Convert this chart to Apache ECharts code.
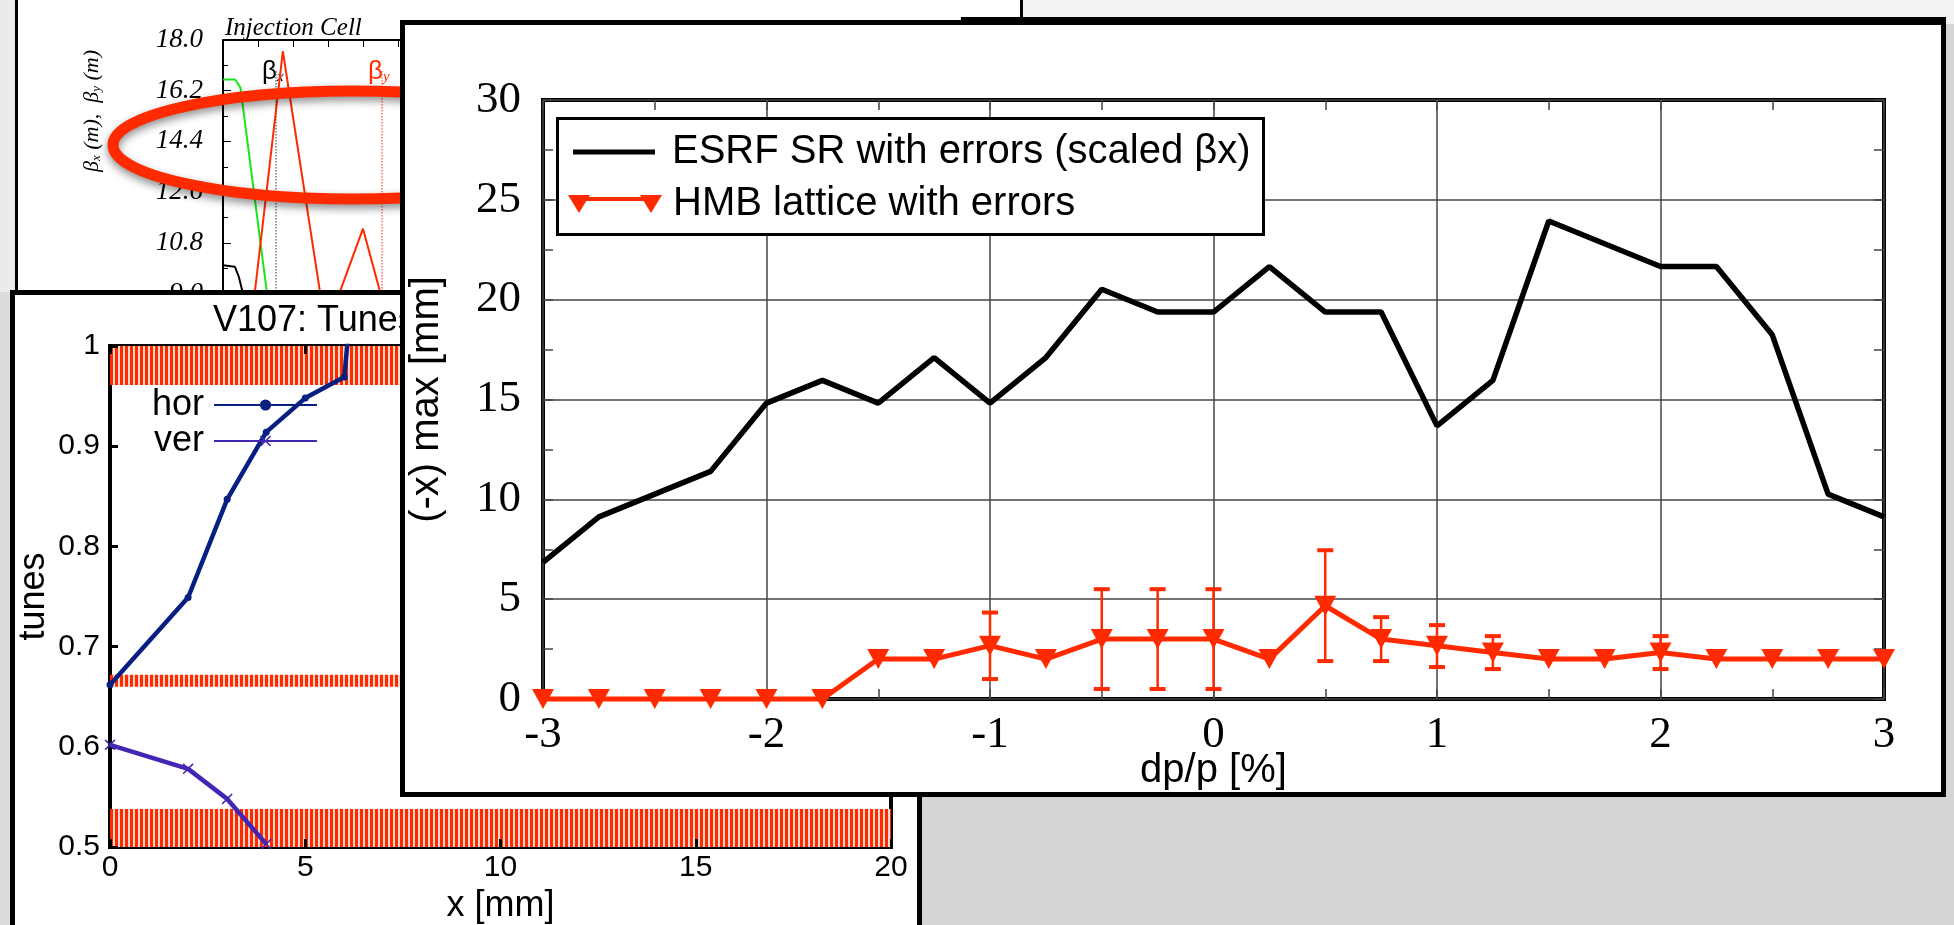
<!DOCTYPE html>
<html><head><meta charset="utf-8">
<script src="https://cdn.jsdelivr.net/npm/echarts@6/dist/echarts.min.js"></script>
<style>html,body{margin:0;padding:0;background:#d5d5d5}#c{width:1954px;height:925px}</style>
</head><body><div id="c"></div><script>
// ---------- main chart data ----------
const dpp = [-3,-2.75,-2.5,-2.25,-2,-1.75,-1.5,-1.25,-1,-0.75,-0.5,-0.25,0,0.25,0.5,0.75,1,1.25,1.5,1.75,2,2.25,2.5,2.75,3];
const esrf = [6.84,9.12,10.26,11.4,14.82,15.96,14.82,17.1,14.82,17.1,20.52,19.38,19.38,21.66,19.38,19.38,13.68,15.96,23.94,22.8,21.66,21.66,18.24,10.26,9.12];
const hmb = [0,0,0,0,0,0,2,2,2.67,2,3,3,3,2,4.67,3,2.67,2.33,2,2,2.33,2,2,2,2];
const errX = [-1,-0.5,-0.25,0,0.5,0.75,1,1.25,2];
const errLow = [1.0,0.5,0.5,0.5,1.9,1.9,1.6,1.5,1.5];
const errHigh = [4.33,5.5,5.5,5.5,7.45,4.1,3.7,3.15,3.15];
const mainNames = ['ESRF SR with errors (scaled βx)','HMB lattice with errors'];

// ---------- tunes panel data ----------
const horX = [0,2,3,4,5,6,6.12];
const horTune = [0.662,0.749,0.847,0.914,0.948,0.969,1.02];
const verX = [0,2,3,4];
const verTune = [0.602,0.578,0.548,0.503];
const bands = [[0.961,1.0],[0.660,0.672],[0.5,0.538]];

// ---------- beta panel data ----------
const greenS = [0,0.35,0.5,1.3,1.7];
const greenV = [16.6,16.6,16.3,8.6,4.9];
const redS = [0.4,1.71,2.94,4.0,5.5];
const redV = [3.6,17.6,7.7,11.3,4.4];
const blackS = [0,0.34,0.45,0.55,0.8];
const blackV = [10.0,9.95,9.6,9.1,7.2];
const markS = [1.51,4.54];

const zip = (a,b) => a.map((v,i)=>[v,b[i]]);
const RED = '#ff2a00';

const pc = document.createElement('canvas'); pc.width = 5; pc.height = 10;
const g = pc.getContext('2d'); g.fillStyle = '#ffd8cc'; g.fillRect(0,0,5,10); g.fillStyle = RED; g.fillRect(0,0,3,10);

const chart = echarts.init(document.getElementById('c'), null, {renderer:'canvas'});
const serif = 'Liberation Serif', sans = 'Liberation Sans';
const noLine = {show:false, onZero:false};

const option = {
  backgroundColor: '#d5d5d5',
  animation: false,
  graphic: { elements: [
    {type:'rect', z:0, shape:{x:1022,y:0,width:932,height:24}, style:{fill:'#f2f2f2'}},
    {type:'rect', z:0, shape:{x:0,y:0,width:16,height:292}, style:{fill:'#ebebeb'}},
    {type:'rect', z:0, shape:{x:0,y:292,width:12,height:633}, style:{fill:'#dcdcdc'}},
    {type:'rect', z:1, shape:{x:16.5,y:-10,width:1005,height:302}, style:{fill:'#fff', stroke:'#000', lineWidth:3}},
    {type:'text', z:2, x:225, y:28, style:{text:'Injection Cell', font:'italic 25px "Liberation Serif"', fill:'#000', verticalAlign:'middle'}},
    {type:'text', z:2, x:262, y:72, style:{text:'{b|β}{s|x}', verticalAlign:'middle', rich:{b:{font:'26px "Liberation Sans"', fill:'#000'}, s:{font:'italic 15px "Liberation Serif"', fill:'#000', verticalAlign:'bottom'}}}},
    {type:'text', z:2, x:368, y:72, style:{text:'{b|β}{s|y}', verticalAlign:'middle', rich:{b:{font:'26px "Liberation Sans"', fill:RED}, s:{font:'italic 15px "Liberation Serif"', fill:RED, verticalAlign:'bottom'}}}},
    {type:'text', z:2, x:92, y:111, rotation:Math.PI/2, style:{text:'{a|β}{s|x}{a| (m),  β}{s|y}{a| (m)}', align:'center', verticalAlign:'middle', rich:{a:{font:'italic 22px "Liberation Serif"', fill:'#000'}, s:{font:'italic 13px "Liberation Serif"', fill:'#000', verticalAlign:'bottom'}}}},
    {type:'ellipse', z:3, shape:{cx:353, cy:145, rx:240, ry:54}, style:{fill:'none', stroke:RED, lineWidth:11, shadowBlur:8, shadowOffsetY:4, shadowColor:'rgba(0,0,0,0.45)'}},
    {type:'rect', z:4, shape:{x:12.5,y:292.5,width:907,height:700}, style:{fill:'#fff', stroke:'#000', lineWidth:5}},
    {type:'text', z:6, x:213, y:321, style:{text:'V107: Tunes vs. x', font:'36px "Liberation Sans"', fill:'#000', verticalAlign:'middle'}},
    {type:'rect', z:7, shape:{x:402.5,y:22.5,width:1541,height:772}, style:{fill:'#fff', stroke:'#000', lineWidth:5}},
    {type:'rect', z:7, shape:{x:961,y:17,width:985,height:6}, style:{fill:'#000'}},
    {type:'rect', z:10, shape:{x:557.5,y:118.5,width:706,height:116}, style:{fill:'#fff', stroke:'#000', lineWidth:3}}
  ]},
  grid: [
    {left:223, top:40, width:770, height:507, show:false, z:2, outerBoundsMode:'none'},
    {left:110, top:346, width:781, height:501, show:true, borderColor:'#000', borderWidth:4, z:5, outerBoundsMode:'none'},
    {left:543, top:100, width:1341, height:599, show:true, borderColor:'#000', borderWidth:4, z:8, outerBoundsMode:'none'}
  ],
  xAxis: [
    {gridIndex:0, type:'value', position:'top', min:0, max:22, interval:1, z:2,
     axisLine:{show:true, onZero:false, lineStyle:{color:'#000', width:2}}, axisTick:{show:true, inside:true, length:7, lineStyle:{color:'#000'}},
     axisLabel:{show:false}, splitLine:{show:false}},
    {gridIndex:1, type:'value', position:'bottom', min:0, max:20, interval:5, z:5,
     axisLine:noLine, axisTick:{show:true, inside:true, length:8, lineStyle:{color:'#000', width:3}},
     axisLabel:{fontFamily:sans, fontSize:30, color:'#000', margin:6}, splitLine:{show:false},
     name:'x [mm]', nameLocation:'middle', nameGap:32, nameTextStyle:{fontFamily:sans, fontSize:36, color:'#000'}},
    {gridIndex:1, type:'value', position:'top', min:0, max:20, interval:5, z:5,
     axisLine:noLine, axisTick:{show:true, inside:true, length:8, lineStyle:{color:'#000', width:3}},
     axisLabel:{show:false}, splitLine:{show:false}},
    {gridIndex:2, type:'value', position:'bottom', min:-3, max:3, interval:1, z:8,
     axisLine:noLine, axisTick:{show:true, inside:true, length:10, lineStyle:{color:'#444', width:1.5}},
     minorTick:{show:true, splitNumber:2, length:10, lineStyle:{color:'#444', width:1.5}},
     axisLabel:{fontFamily:serif, fontSize:45, color:'#000', margin:14}, splitLine:{show:true, lineStyle:{color:'#444', width:1.5}},
     name:'dp/p [%]', nameLocation:'middle', nameGap:52, nameMoveOverlap:false, nameTextStyle:{fontFamily:sans, fontSize:40, color:'#000'}},
    {gridIndex:2, type:'value', position:'top', min:-3, max:3, interval:1, z:8,
     axisLine:noLine, axisTick:{show:true, inside:true, length:10, lineStyle:{color:'#444', width:1.5}},
     minorTick:{show:true, splitNumber:2, length:10, lineStyle:{color:'#444', width:1.5}},
     axisLabel:{show:false}, splitLine:{show:false}}
  ],
  yAxis: [
    {gridIndex:0, type:'value', position:'left', min:0, max:18, interval:1.8, z:2,
     axisLine:{show:true, onZero:false, lineStyle:{color:'#000', width:2}}, axisTick:{show:true, inside:true, length:8, lineStyle:{color:'#000'}},
     minorTick:{show:true, splitNumber:2, length:5, lineStyle:{color:'#000'}},
     axisLabel:{fontFamily:serif, fontStyle:'italic', fontSize:27, color:'#000', margin:20, formatter:v=>v.toFixed(1)}, splitLine:{show:false}},
    {gridIndex:1, type:'value', position:'left', min:0.5, max:1, interval:0.1, z:5,
     axisLine:noLine, axisTick:{show:true, inside:true, length:8, lineStyle:{color:'#000', width:3}},
     axisLabel:{fontFamily:sans, fontSize:30, color:'#000', margin:10, formatter:v=>String(+v.toFixed(1))}, splitLine:{show:false},
     name:'tunes', nameLocation:'middle', nameGap:58, nameTextStyle:{fontFamily:sans, fontSize:36, color:'#000'}},
    {gridIndex:2, type:'value', position:'left', min:0, max:30, interval:5, z:8,
     axisLine:noLine, axisTick:{show:true, inside:true, length:10, lineStyle:{color:'#444', width:1.5}},
     minorTick:{show:true, splitNumber:2, length:10, lineStyle:{color:'#444', width:1.5}},
     axisLabel:{fontFamily:serif, fontSize:45, color:'#000', margin:22}, splitLine:{show:true, lineStyle:{color:'#444', width:1.5}},
     name:'(-x) max [mm]', nameLocation:'middle', nameGap:96, nameTextStyle:{fontFamily:sans, fontSize:40, color:'#000'}},
    {gridIndex:2, type:'value', position:'right', min:0, max:30, interval:5, z:8,
     axisLine:noLine, axisTick:{show:true, inside:true, length:10, lineStyle:{color:'#444', width:1.5}},
     minorTick:{show:true, splitNumber:2, length:10, lineStyle:{color:'#444', width:1.5}},
     axisLabel:{show:false}, splitLine:{show:false}}
  ],
  legend: [
    {data:[{name:mainNames[0], icon:'rect'}], left:573, top:129, padding:0, itemWidth:82, itemHeight:5, z:11, selectedMode:false,
     textStyle:{fontFamily:sans, fontSize:40, color:'#000', lineHeight:46, padding:[0,0,0,12]}},
    {data:[{name:mainNames[1], icon:'path://M0,0 L22,0 L11,18 Z M72,0 L94,0 L83,18 Z M11,2 L83,2 L83,6 L11,6 Z'}], left:568, top:181, padding:0, itemWidth:94, itemHeight:18, z:11, selectedMode:false,
     textStyle:{fontFamily:sans, fontSize:40, color:'#000', lineHeight:46, padding:[0,0,0,6]}},
    {data:['hor','ver'], orient:'vertical', align:'right', left:152, top:387, padding:0, itemGap:0, itemWidth:103, itemHeight:14, z:6, selectedMode:false,
     textStyle:{fontFamily:sans, fontSize:36, color:'#000', lineHeight:31, padding:[0,5,0,0]}}
  ],
  series: [
    {type:'line', xAxisIndex:0, yAxisIndex:0, data:zip(greenS,greenV), symbol:'none', silent:true, z:2, lineStyle:{color:'#19e619', width:2}},
    {type:'line', xAxisIndex:0, yAxisIndex:0, data:zip(redS,redV), symbol:'none', silent:true, z:2, lineStyle:{color:RED, width:2}},
    {type:'line', xAxisIndex:0, yAxisIndex:0, data:zip(blackS,blackV), symbol:'none', silent:true, z:2, lineStyle:{color:'#000', width:2},
     markLine:{silent:true, z:2, symbol:'none', label:{show:false}, data:[
       [{coord:[markS[0],16.9], lineStyle:{color:'#777', type:'dotted', width:1.5}},{coord:[markS[0],0]}],
       [{coord:[markS[1],16.9], lineStyle:{color:'#ff7070', type:'dotted', width:1.5}},{coord:[markS[1],0]}]]}},
    {type:'line', name:'hor', xAxisIndex:1, yAxisIndex:1, data:zip(horX,horTune), color:'#081f82', z:5, clip:true,
     symbol:'circle', symbolSize:7, lineStyle:{width:4.5}, silent:true,
     markArea:{silent:true, z:5, itemStyle:{color:{image:pc, repeat:'repeat'}}, data:bands.map(b=>[{yAxis:b[0]},{yAxis:b[1]}])}},
    {type:'line', name:'ver', xAxisIndex:1, yAxisIndex:1, data:zip(verX,verTune), color:'#4426b4', z:5, clip:true,
     symbol:'path://M0,1 L1,0 L5,4 L9,0 L10,1 L6,5 L10,9 L9,10 L5,6 L1,10 L0,9 L4,5 Z', symbolSize:11, lineStyle:{width:4.5}, silent:true},
    {type:'line', name:mainNames[0], xAxisIndex:3, yAxisIndex:2, data:zip(dpp,esrf), color:'#000', symbol:'none', z:9,
     lineStyle:{width:5.5}, silent:true},
    {type:'custom', xAxisIndex:3, yAxisIndex:2, z:9, silent:true, clip:false,
     data:errX.map((x,i)=>[x,errLow[i],errHigh[i]]), encode:{x:0, y:[1,2]},
     renderItem:(p,api)=>{
       const x = api.value(0); const lo = api.coord([x, api.value(1)]); const hi = api.coord([x, api.value(2)]); const w = 8;
       return {type:'group', children:[
         {type:'line', shape:{x1:lo[0],y1:lo[1],x2:hi[0],y2:hi[1]}, style:{stroke:RED, lineWidth:2.5}},
         {type:'line', shape:{x1:hi[0]-w,y1:hi[1],x2:hi[0]+w,y2:hi[1]}, style:{stroke:RED, lineWidth:4}},
         {type:'line', shape:{x1:lo[0]-w,y1:lo[1],x2:lo[0]+w,y2:lo[1]}, style:{stroke:RED, lineWidth:4}}
       ]};
     }},
    {type:'line', name:mainNames[1], xAxisIndex:3, yAxisIndex:2, data:zip(dpp,hmb), color:RED, z:9, clip:false,
     symbol:'triangle', symbolRotate:180, symbolSize:[22,20], lineStyle:{width:5}, silent:true}
  ]
};
chart.setOption(option);
</script></body></html>
